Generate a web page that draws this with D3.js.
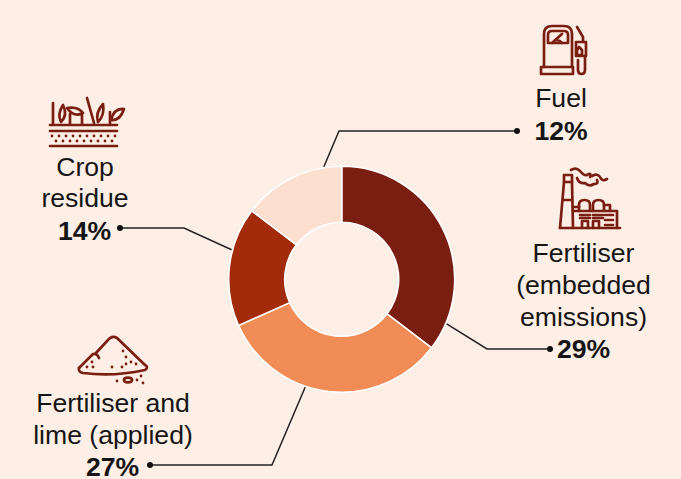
<!DOCTYPE html>
<html>
<head>
<meta charset="utf-8">
<script src="https://cdnjs.cloudflare.com/ajax/libs/d3/7.8.5/d3.min.js"></script>
<style>
  html, body { margin: 0; padding: 0; background: #fdefe6; }
  svg { display: block; }
  text { font-family: "Liberation Sans", Arial, sans-serif; font-size: 26.6px; fill: #151515; }
  .pct { font-weight: bold; }
  .icon path { fill: none; stroke: #7b1e12; stroke-width: 2.7; stroke-linecap: round; stroke-linejoin: round; }
  .icon .dot { fill: #7b1e12; stroke: none; }
</style>
</head>
<body>
<div id="chart"></div>
<script>
var categories = ["Fertiliser (embedded emissions)", "Fertiliser and lime (applied)", "Crop residue", "Fuel"];
var values = [29, 27, 14, 12];
var colours = ["#7b1e12", "#f28c56", "#a32a0a", "#fcdfcf"];

var width = 681, height = 479;
var cx = 341.7, cy = 279.3, outerR = 113, innerR = 57;

var svg = d3.select("#chart")
  .append("svg")
  .attr("width", width)
  .attr("height", height);

var pie = d3.pie().sort(null).value(function(d) { return d; });
var arc = d3.arc().innerRadius(innerR).outerRadius(outerR);

var donut = svg.append("g")
  .attr("transform", "translate(" + cx + "," + cy + ")");

donut.selectAll("path")
  .data(pie(values))
  .enter()
  .append("path")
    .attr("d", arc)
    .attr("fill", function(d, i) { return colours[i]; })
    .attr("stroke", "#fff")
    .attr("stroke-width", 1.6);

// label placement, one entry per category
var layout = [
  {lines: ["Fertiliser", "(embedded", "emissions)"], x: 583.5, y: [261.5, 293.5, 325.5], pctX: 583.5, pctY: 358,
   angle: 113, elbow: [487, 349], end: [550, 349]},
  {lines: ["Fertiliser and", "lime (applied)"], x: 113, y: [411.5, 443.5], pctX: 112.5, pctY: 475.5,
   angle: 198.7, elbow: [272, 465], end: [150, 465]},
  {lines: ["Crop", "residue"], x: 85, y: [176, 207], pctX: 84.5, pctY: 240,
   angle: 285, elbow: [184, 228], end: [120, 228]},
  {lines: ["Fuel"], x: 561, y: [107], pctX: 561, pctY: 140,
   angle: 351, elbow: [339, 131], end: [517, 131]}
];

var leader = d3.line();

layout.forEach(function(l, i) {
  var a = l.angle * Math.PI / 180;
  var start = [cx + (outerR + 1) * Math.sin(a), cy - (outerR + 1) * Math.cos(a)];

  svg.append("path")
    .attr("d", leader([start, l.elbow, l.end]))
    .attr("fill", "none")
    .attr("stroke", "#222")
    .attr("stroke-width", 1.5);

  svg.append("circle")
    .attr("cx", l.end[0])
    .attr("cy", l.end[1])
    .attr("r", 3)
    .attr("fill", "#111");

  l.lines.forEach(function(t, j) {
    svg.append("text")
      .attr("x", l.x)
      .attr("y", l.y[j])
      .attr("text-anchor", "middle")
      .text(t);
  });

  svg.append("text")
    .attr("class", "pct")
    .attr("x", l.pctX)
    .attr("y", l.pctY)
    .attr("text-anchor", "middle")
    .text(values[i] + "%");
});

// icons
function icon(x, y, paths, dots) {
  var g = svg.append("g").attr("class", "icon").attr("transform", "translate(" + x + "," + y + ")");
  paths.forEach(function(p) { g.append("path").attr("d", p); });
  (dots || []).forEach(function(d) {
    g.append("circle").attr("class", "dot").attr("cx", d[0]).attr("cy", d[1]).attr("r", d[2] || 1.4);
  });
}

// fuel pump
icon(520, 10, [
  "M24 57V24Q24 16 32 16H44Q52 16 52 24V57",
  "M28 33V25Q28 21 32 21H44Q48 21 48 25V33Z",
  "M33 32L42 24M32 33Q37 27 42 33",
  "M21 57H53V64H21Z",
  "M57 17L63 27V32",
  "M56 32H66V46H56Z",
  "M57 45V40L59 37L62 40V45Z",
  "M58 50V60Q58 64 61.5 64Q65 64 65 60V46"
]);

// factory
icon(540, 160, [
  "M24 15H32V22H24Z",
  "M24 22L20 68M32 22L33 68M22.5 40H32.5",
  "M20 68H80",
  "M33 47H39M64 45H70V51",
  "M33 51H77V68",
  "M39 51V45Q39 40 44.5 40Q50 40 50 45V51",
  "M53 51V45Q53 40 58.5 40Q64 40 64 45V51",
  "M42 68V61H48V68M53 68V61H59V68",
  "M40 55H50M53 55H63M40 58H50M53 58H63",
  "M65 55H73M65 60H73M65 65H73",
  "M31 10Q36 7 40 11Q44 16 47 15Q52 12 50 17",
  "M37 18Q39 24 45 23Q49 27 54 24Q59 24 57 20",
  "M52 16Q58 13 60 17Q62 22 67 19"
]);

// crop residue
icon(40, 90, [
  "M13 13V34",
  "M23 15Q17 24 21 32Q28 25 23 15Z",
  "M27 18Q38 16 43 23Q34 28 27 18Z",
  "M30 24V34M42 25V34",
  "M47 8L54 33",
  "M63 14Q55 23 58 32Q65 25 63 14Z",
  "M84 19Q74 18 71 30Q80 31 84 19Z",
  "M70 22V34",
  "M10 35H77",
  "M10 41H77",
  "M10 56H77"
], [[12,46],[19,46],[26,46],[33,46],[40,46],[47,46],[54,46],[61,46],[68,46],[75,46],
    [16,51],[23,51],[30,51],[37,51],[44,51],[51,51],[58,51],[65,51],[72,51]]);

// heap of fertiliser
icon(70, 330, [
  "M9 38L23 24Q27 23 29 28",
  "M9 38Q8 42 13 43Q43 47 75 40Q79 37 75 35L47 8Q42 5 38 10L26 23",
  "M54 50a4 2.3 0 1 0 8 0a4 2.3 0 1 0 -8 0"
], [[53,21],[56,27],[61,32],[66,34],[56,34],[52,37],[42,37],[22,32],[17,37],[23,37],[47,51],[67,50],[73,53],[71,46]]);
</script>
</body>
</html>
